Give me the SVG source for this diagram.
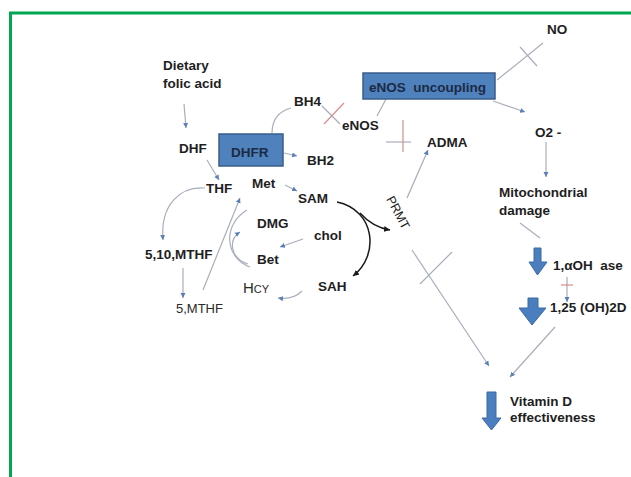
<svg xmlns="http://www.w3.org/2000/svg" width="631" height="477" viewBox="0 0 631 477">
<defs>
<style>
.t{font-family:"Liberation Sans",Arial,sans-serif;font-size:13.5px;font-weight:bold;fill:#1e1e1e}
.r{font-family:"Liberation Sans",Arial,sans-serif;font-size:13px;font-weight:normal;fill:#2a2a2a}
.c{fill:none;stroke:#a8aebb;stroke-width:1.2}
.k{fill:none;stroke:#1a1a1a;stroke-width:1.5}
.x{fill:none;stroke:#d98c8c;stroke-width:1.2}
.box{fill:#4f81bd;stroke:#385d8a;stroke-width:1.5}
.blk{fill:#4a7ebf;stroke:#3b6aa6;stroke-width:1}
</style>
<marker id="ah" markerWidth="6" markerHeight="6" refX="5" refY="3" orient="auto" markerUnits="userSpaceOnUse">
<path d="M0,0.5 L5,3 L0,5.5 Z" fill="#5a7fb8"/>
</marker>
<marker id="ak" markerWidth="7" markerHeight="7" refX="6" refY="3.5" orient="auto" markerUnits="userSpaceOnUse">
<path d="M0,0.5 L6,3.5 L0,6.5 Z" fill="#1a1a1a"/>
</marker>
</defs>
<rect width="631" height="477" fill="#ffffff"/>
<g id="frame">
<path d="M10.5,477 V13 H631" fill="none" stroke="#00a650" stroke-width="3"/>
</g>
<g id="connectors">
<line class="c" x1="184" y1="104" x2="186" y2="128" marker-end="url(#ah)"/>
<line class="c" x1="207" y1="160" x2="219" y2="180" marker-end="url(#ah)"/>
<path class="c" d="M272,133 C272,118 280,111 291,108"/>
<line class="c" x1="284" y1="153" x2="297" y2="156" marker-end="url(#ah)"/>
<line class="c" x1="322" y1="106" x2="340" y2="124"/>
<line class="x" x1="324" y1="124" x2="344" y2="103"/>
<line class="c" x1="377" y1="116" x2="386" y2="99"/>
<line class="c" x1="386" y1="142" x2="411" y2="142"/>
<line class="x" x1="403" y1="120" x2="403" y2="152"/>
<line class="c" x1="497" y1="80" x2="543" y2="43"/>
<line class="c" x1="520" y1="47" x2="537" y2="66"/>
<line class="c" x1="493" y1="101" x2="525" y2="112" marker-end="url(#ah)"/>
<line class="c" x1="546" y1="142" x2="546" y2="177" marker-end="url(#ah)"/>
<line class="c" x1="520" y1="223" x2="540" y2="238"/>
<line class="c" x1="567" y1="277" x2="567" y2="302" marker-end="url(#ah)"/>
<line class="x" x1="561" y1="285" x2="573" y2="285"/>
<line class="c" x1="555" y1="327" x2="510" y2="377" marker-end="url(#ah)"/>
<line class="c" x1="412" y1="250" x2="489" y2="366" marker-end="url(#ah)"/>
<line class="c" x1="452" y1="252" x2="420" y2="284"/>
<line class="c" x1="407" y1="198" x2="428" y2="150" marker-end="url(#ah)"/>
<path class="c" d="M205,188 C180,186 160,205 163,240" marker-end="url(#ah)"/>
<line class="c" x1="183" y1="268" x2="183" y2="298" marker-end="url(#ah)"/>
<line class="c" x1="203" y1="290" x2="240" y2="198" marker-end="url(#ah)"/>
<line class="c" x1="285" y1="185" x2="297" y2="191" marker-end="url(#ah)"/>
<line class="c" x1="303" y1="239" x2="280" y2="247" marker-end="url(#ah)"/>
<path class="c" d="M247,210 C222,225 225,258 250,267"/>
<path class="c" d="M248,264 C230,258 228,240 240,232" marker-end="url(#ah)"/>
<path class="k" d="M337,202 C375,210 380,255 353,276" marker-end="url(#ak)"/>
<path class="k" d="M360,213 C368,222 378,228 390,230" marker-end="url(#ak)"/>
<path class="c" d="M302,291 C295,298 285,299 278,298" marker-end="url(#ah)"/>
</g>
<g id="dietary"><text class="t" x="163" y="70">Dietary</text><text class="t" x="163" y="88">folic acid</text></g>
<g id="dhf"><text class="t" x="179" y="153">DHF</text></g>
<g id="dhfr"><rect class="box" x="219" y="134" width="64" height="32"/><text class="t" x="231" y="157" style="fill:#1c2a44">DHFR</text></g>
<g id="bh4"><text class="t" x="294" y="106">BH4</text></g>
<g id="bh2"><text class="t" x="307" y="165">BH2</text></g>
<g id="enos-uncoupling"><rect class="box" x="363" y="73" width="132" height="26"/><text class="t" x="369" y="92" style="fill:#1c2a44" xml:space="preserve">eNOS  uncoupling</text></g>
<g id="no"><text class="t" x="547" y="34">NO</text></g>
<g id="enos"><text class="t" x="342" y="130">eNOS</text></g>
<g id="adma"><text class="t" x="427" y="147">ADMA</text></g>
<g id="o2"><text class="t" x="535" y="137">O2 -</text></g>
<g id="mito"><text class="t" x="499" y="197">Mitochondrial</text><text class="t" x="499" y="215">damage</text></g>
<g id="ohase"><path class="blk" d="M534,248 H541 V262 H547 L537.5,275 L529,262 H534 Z"/><text class="t" x="553" y="270" xml:space="preserve">1,αOH  ase</text></g>
<g id="oh2d"><path class="blk" d="M528,298 H538 V308 H546 L532,325 L519,308 H528 Z"/><text class="t" x="550" y="312">1,25 (OH)2D</text></g>
<g id="vitd"><path class="blk" d="M487,392 H496 V418 H501 L491.5,430 L482,418 H487 Z"/><text class="t" x="510" y="406">Vitamin D</text><text class="t" x="510" y="422">effectiveness</text></g>
<g id="thf"><text class="t" x="206" y="193">THF</text></g>
<g id="met"><text class="t" x="252" y="188">Met</text></g>
<g id="sam"><text class="t" x="298" y="203">SAM</text></g>
<g id="dmg"><text class="t" x="257" y="228">DMG</text></g>
<g id="chol"><text class="t" x="314" y="240">chol</text></g>
<g id="bet"><text class="t" x="257" y="264">Bet</text></g>
<g id="sah"><text class="t" x="318" y="291">SAH</text></g>
<g id="hcy"><text class="r" x="243" y="293" style="font-variant:small-caps;font-size:15px">Hcy</text></g>
<g id="mthf510"><text class="t" x="145" y="259">5,10,MTHF</text></g>
<g id="mthf5"><text class="r" x="176" y="313">5,MTHF</text></g>
<g id="prmt"><text class="r" x="0" y="0" transform="translate(386,199) rotate(62)" style="font-size:12.5px;fill:#1a1a1a">PRMT</text></g>
</svg>
